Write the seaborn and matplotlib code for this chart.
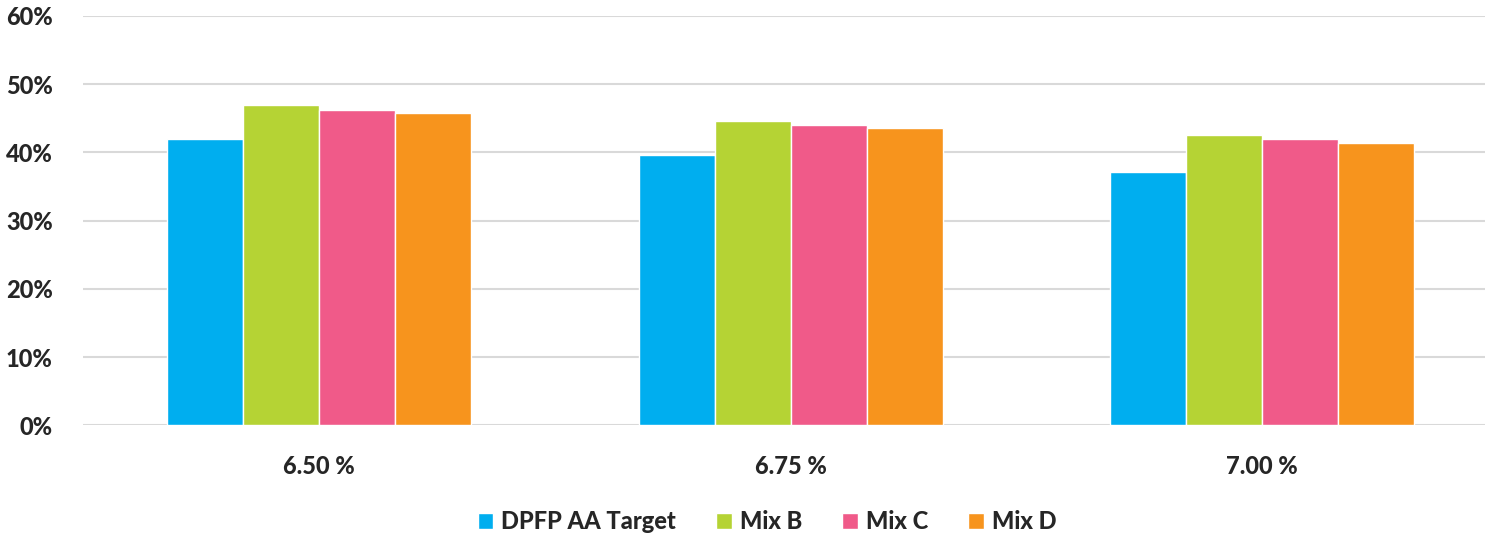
import pandas as pd
import matplotlib.pyplot as plt
import seaborn as sns
from matplotlib.ticker import FuncFormatter

# values (percent)
categories = ["6.50 %", "6.75 %", "7.00 %"]
series = ["DPFP AA Target", "Mix B", "Mix C", "Mix D"]
dpfp_target = [42.0, 39.6, 37.2]
mix_b = [46.9, 44.6, 42.5]
mix_c = [46.2, 44.0, 41.9]
mix_d = [45.8, 43.6, 41.4]
colors = ["#00aeef", "#b5d334", "#f05a89", "#f7941d"]

rows = []
for name, vals in zip(series, [dpfp_target, mix_b, mix_c, mix_d]):
    for cat, v in zip(categories, vals):
        rows.append({"rate": cat, "series": name, "value": v})
df = pd.DataFrame(rows)

sns.set_style("white")
plt.rcParams['font.family'] = ['Lato', 'DejaVu Sans']

fig, ax = plt.subplots(figsize=(14.86, 5.33), dpi=100)
fig.subplots_adjust(left=0.056, right=0.999, top=0.97, bottom=0.202)

sns.barplot(data=df, x="rate", y="value", hue="series", palette=colors,
            width=0.645, edgecolor="white", linewidth=1, saturation=1, ax=ax)

ax.set_xlim(-0.5, 2.471)
ax.set_ylim(0, 60)
ax.set_yticks(range(0, 61, 10))
ax.yaxis.set_major_formatter(FuncFormatter(lambda v, p: f"{v:.0f}%"))
ax.grid(axis="y", color="#d9d9d9", linewidth=1.5)
ax.set_axisbelow(True)
sns.despine(ax=ax, left=True, bottom=True, top=True, right=True)
ax.set_xlabel("")
ax.set_ylabel("")
ax.tick_params(axis="both", length=0, labelsize=17)
ax.tick_params(axis="x", pad=21)
ax.tick_params(axis="y", pad=22)
for lbl in ax.get_xticklabels() + ax.get_yticklabels():
    lbl.set_fontweight("black")

ax.legend(loc="upper center", bbox_to_anchor=(0.488, -0.155), ncol=4, frameon=False,
          prop={"weight": "black", "size": 17}, handlelength=0.65, handleheight=0.65,
          handletextpad=0.35, columnspacing=1.7)

plt.savefig("out.png", dpi=100)
plt.close()
